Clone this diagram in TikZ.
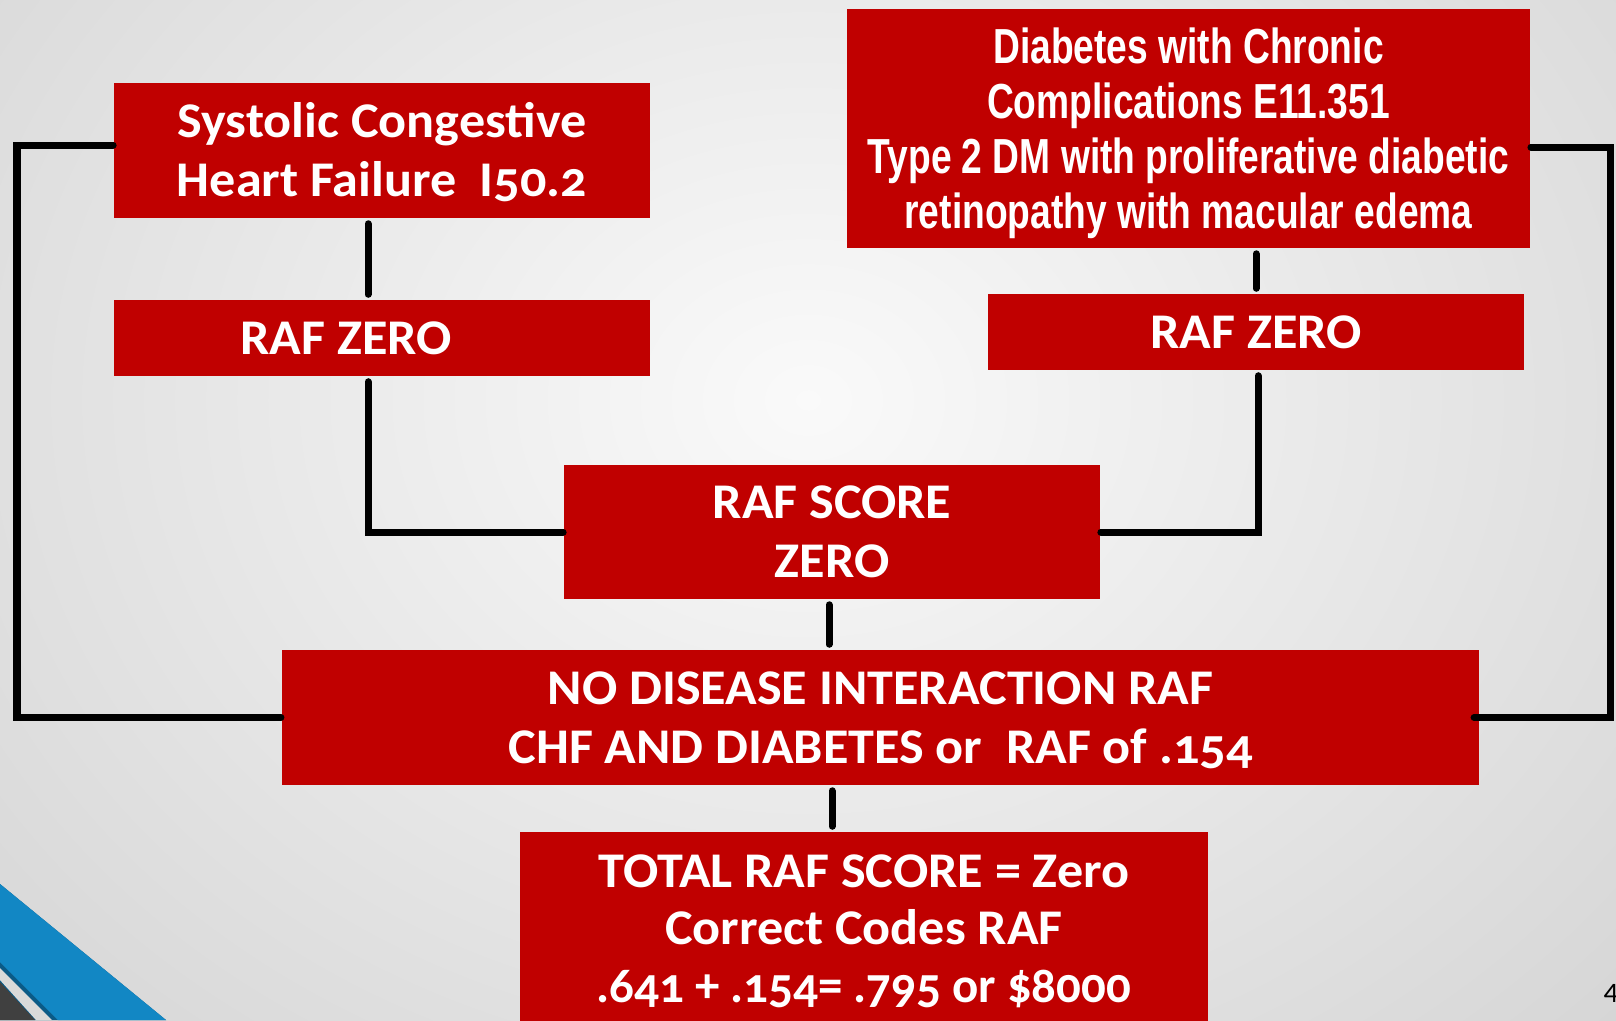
\documentclass[tikz,border=0pt]{standalone}
\usepackage{fontspec}
\setmainfont{Carlito}[Numbers=OldStyle, FakeStretch=1.045]
\newfontfamily\sumfont{Carlito}[Numbers=OldStyle, FakeStretch=0.98]
\newfontfamily\narrowfont{Liberation Sans}[FakeStretch=0.755]
\usetikzlibrary{positioning}
\definecolor{boxred}{HTML}{C00000}
\definecolor{slideblue}{HTML}{1287C4}
\definecolor{slidedark}{HTML}{0B5A86}

\begin{document}
\begin{tikzpicture}[
    x=0.01cm, y=-0.01cm,
    redbox/.style={rectangle, fill=boxred, text=white, align=center, inner sep=0pt, font=\bfseries\fontsize{14.2}{16.8}\selectfont},
    link/.style={line width=0.07cm, line cap=round, black},
    gap/.style={shorten <=0.05cm, shorten >=0.05cm}
]

% slide background
\useasboundingbox (0,0) rectangle (1616,1020);
\shade[inner color=gray!4, outer color=gray!32] (-300,-500) rectangle (1916,1300);
\fill[slidedark] (0,884) -- (166,1020) -- (0,1020) -- cycle;
\fill[slideblue] (0,884) -- (166,1020) -- (58,1020) -- (0,962) -- cycle;
\fill[gray!30] (0,968) -- (52,1020) -- (36,1020) -- (0,980) -- cycle;
\fill[black!75] (0,982) -- (35,1020) -- (0,1020) -- cycle;

% boxes
\node[redbox, minimum width=5.36cm, minimum height=1.35cm] (chf) at (382,150.5) {\rule{0pt}{11pt}Systolic Congestive\\Heart Failure\ \ I50.2};
\node[redbox, minimum width=5.36cm, minimum height=0.76cm] (rafL) at (382,338) {RAF ZERO\hspace*{0.72cm}};
\node[redbox, minimum width=6.83cm, minimum height=2.39cm] (dm) at (1188.5,128.5) {};
\node[text=white, align=center, inner sep=0pt, font=\narrowfont\bfseries\fontsize{14}{15.6}\selectfont] (dmtext) at (1188.5,133) {Diabetes with Chronic\\Complications E11.351\\Type 2 DM with proliferative diabetic\\retinopathy with macular edema};
\node[redbox, minimum width=5.36cm, minimum height=0.76cm] (rafR) at (1256,332) {RAF ZERO};
\node[redbox, minimum width=5.36cm, minimum height=1.34cm] (score) at (832,532) {RAF SCORE\\ZERO};
\node[redbox, minimum width=11.97cm, minimum height=1.35cm] (nodis) at (880.5,717.5) {\rule{0pt}{11pt}NO DISEASE INTERACTION RAF\\CHF AND DIABETES or\ \ RAF of .154};
\node[redbox, minimum width=6.88cm, minimum height=1.94cm, font=\bfseries\fontsize{14.2}{16.4}\selectfont] (total) at (864,929) {\rule{0pt}{10.5pt}TOTAL RAF SCORE = Zero\\Correct Codes RAF\\{\sumfont\bfseries .641 + .154= .795 or \$8000}};

\node[anchor=west, inner sep=0pt, font=\addfontfeatures{Numbers=Lining}\fontsize{8}{9}\selectfont] (page) at (1603,993) {4};

% connectors
\foreach \a/\b/\x in {chf/rafL/368, dm/rafR/1256, score/nodis/829, nodis/total/832}
    \draw[link, gap] (\a.south -| \x,0) -- (\b.north -| \x,0);
\draw[link, shorten <=0.05cm] (rafL.south -| 368,0) |- (score.west);
\draw[link, shorten <=0.05cm] (rafR.south -| 1258,0) |- (score.east);

\coordinate (railL) at (17,430);
\coordinate (railR) at (1610,430);
\draw[link] ([yshift=0.055cm]chf.west) -| (railL) |- (nodis.west);
\draw[link] ([yshift=-0.185cm]dm.east) -| (railR) |- ([xshift=-0.06cm]nodis.east);

\end{tikzpicture}
\end{document}
